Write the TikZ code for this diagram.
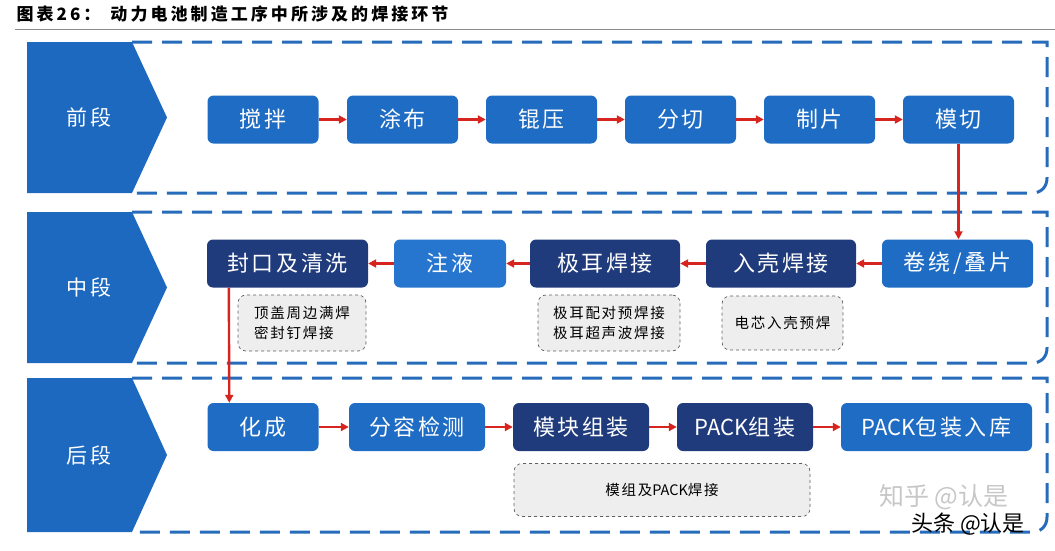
\documentclass[tikz,border=0pt]{standalone}
\usepackage{fontspec}
\setmainfont{Noto Sans CJK SC}
\usetikzlibrary{arrows.meta}
\definecolor{stageblue}{RGB}{30,105,192}
\definecolor{procblue}{RGB}{31,108,196}
\definecolor{liquidblue}{RGB}{38,117,206}
\definecolor{deepblue}{RGB}{31,59,124}
\definecolor{dashblue}{RGB}{38,108,186}
\definecolor{flowred}{RGB}{214,36,30}
\definecolor{notefill}{RGB}{238,238,238}
\definecolor{noteline}{RGB}{95,95,95}
\newcommand{\boxfont}{\fontsize{22}{26}\selectfont\addfontfeature{LetterSpace=12}}
\newcommand{\notefont}{\fontsize{14.5}{20}\selectfont\addfontfeature{LetterSpace=12}}
\newcommand{\latin}[1]{{\addfontfeature{LetterSpace=0}#1}}
\begin{document}
\begin{tikzpicture}[x=1pt, y=-1pt,
    procbox/.style = {shape=rectangle, rounded corners=6pt, fill=procblue, text=white,
                      minimum height=48pt, inner sep=0pt, font=\boxfont},
    deepbox/.style = {procbox, fill=deepblue},
    notebox/.style = {shape=rectangle, rounded corners=8pt, draw=noteline, dashed,
                      line width=0.7pt, fill=notefill, inner sep=0pt, font=\notefont},
    stagetext/.style = {text=white, font=\fontsize{21}{24}\selectfont\addfontfeature{LetterSpace=10}},
    flow/.style = {draw=flowred, line width=2.4pt, -{Triangle[length=8pt,width=8pt]}},
    bandline/.style = {draw=dashblue, line width=3pt, dash pattern=on 20pt off 10pt}]
\useasboundingbox (0,0) rectangle (1055,550);

% title
\node[anchor=west, font=\fontsize{17}{20}\selectfont\bfseries\addfontfeature{LetterSpace=18}] (title) at (13,14)
  {图表26：\hspace{10pt}动力电池制造工序中所涉及的焊接环节};
\draw[black!45, line width=0.8pt] (15,29) -- (1055,29);

% three stages
\foreach \ya/\yb/\lbl [count=\i] in {42/193/前段, 212/363/中段, 378/532/后段} {
  \fill[stageblue] (27,\ya) -- (132,\ya) -- (167,{(\ya+\yb)/2}) -- (132,\yb) -- (27,\yb) -- cycle;
  \node[stagetext] (stage\i) at (89,{(\ya+\yb)/2}) {\lbl};
  \draw[bandline] (132,\ya) -- (1047,\ya) -- (1047,{\yb-15})
    .. controls (1047,{\yb-6}) and (1041,\yb) .. (1032,\yb) -- (132,\yb);
}

% front stage
\node[procbox, minimum width=111pt] (jiaoban) at (263,119.5) {搅拌};
\node[procbox, minimum width=111pt] (tubu) at (402.5,119.5) {涂布};
\node[procbox, minimum width=111pt] (gunya) at (541.5,119.5) {锟压};
\node[procbox, minimum width=111pt] (fenqie) at (680.5,119.5) {分切};
\node[procbox, minimum width=111pt] (zhipian) at (819.5,119.5) {制片};
\node[procbox, minimum width=111pt] (moqie) at (958.5,119.5) {模切};

% middle stage
\node[procbox, minimum width=151pt] (juanrao) at (957.5,263.5) {卷绕/叠片};
\node[deepbox, minimum width=150pt] (ruke) at (781,263.5) {入壳焊接};
\node[deepbox, minimum width=150pt] (jier) at (605,263.5) {极耳焊接};
\node[procbox, fill=liquidblue, minimum width=112pt] (zhuye) at (450,263.5) {注液};
\node[deepbox, minimum width=161pt] (fengkou) at (287.5,263.5) {封口及清洗};

\node[notebox, minimum width=128pt, minimum height=56pt, align=left] (fengkouweld) at (302,323)
  {顶盖周边满焊\\密封钉焊接};
\node[notebox, minimum width=142pt, minimum height=56pt, align=left] (jierweld) at (609,323)
  {极耳配对预焊接\\极耳超声波焊接};
\node[notebox, minimum width=121pt, minimum height=54pt] (rukeweld) at (782.5,323) {电芯入壳预焊};

% back stage
\node[procbox, minimum width=111pt] (huacheng) at (263,427) {化成};
\node[procbox, minimum width=136pt] (fenrong) at (417,427) {分容检测};
\node[deepbox, minimum width=136pt] (mokuai) at (581,427) {模块组装};
\node[deepbox, minimum width=136pt] (packzz) at (745,427) {\latin{PACK}组装};
\node[procbox, minimum width=191pt] (packbz) at (936.5,427) {\latin{PACK}包装入库};

\node[notebox, minimum width=296pt, minimum height=53pt] (packweld) at (662,490) {模组及\latin{PACK}焊接};

% flow
\draw[flow] (jiaoban) -- (tubu);
\draw[flow] (tubu) -- (gunya);
\draw[flow] (gunya) -- (fenqie);
\draw[flow] (fenqie) -- (zhipian);
\draw[flow] (zhipian) -- (moqie);
\draw[flow] (moqie.south) -- (moqie.south |- juanrao.north);
\draw[flow] (juanrao) -- (ruke);
\draw[flow] (ruke) -- (jier);
\draw[flow] (jier) -- (zhuye);
\draw[flow] (zhuye) -- (fengkou);
\draw[flow] ([xshift=22pt]fengkou.south west) -- ([xshift=22pt]huacheng.north west);
\draw[flow] (huacheng) -- (fenrong);
\draw[flow] (fenrong) -- (mokuai);
\draw[flow] (mokuai) -- (packzz);
\draw[flow] (packzz) -- (packbz);

% watermarks
\node[text=black!22, font=\fontsize{25}{26}\selectfont] (zhihu) at (944,497) {知乎 @认是};
\node[text=black, font=\fontsize{22}{23}\selectfont] (toutiao) at (968,524) {头条 @认是};
\end{tikzpicture}
\end{document}
